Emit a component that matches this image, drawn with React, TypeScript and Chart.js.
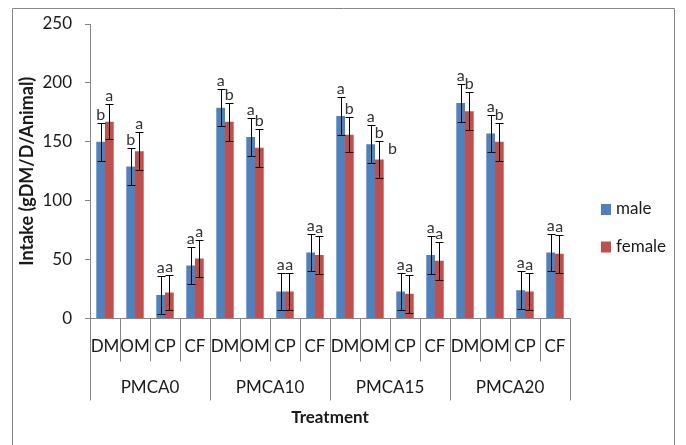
import React, { useEffect, useRef } from "react";
import { Chart, registerables } from "chart.js";

Chart.register(...registerables);

const groups = ["PMCA0", "PMCA10", "PMCA15", "PMCA20"];
const nutrients = ["DM", "OM", "CP", "CF"];
const categories = groups.flatMap((g) => nutrients.map((n) => `${g} ${n}`));

const maleValues = [150, 129, 20, 45, 179, 154, 23, 56, 172, 148, 23, 54, 183, 157, 24, 56];
const femaleValues = [167, 142, 22, 51, 167, 145, 23, 54, 156, 135, 21, 49, 176, 150, 23, 55];
const maleErrors = [16, 16, 16, 16, 16, 16, 16, 16, 16, 16, 16, 16, 16, 16, 16, 16];
const femaleErrors = [15, 16, 15, 16, 16, 16, 16, 16, 15, 16, 16, 16, 16, 16, 16, 16];
const maleLetters = ["b", "b", "a", "a", "a", "a", "a", "a", "a", "a", "a", "a", "a", "a", "a", "a"];
const femaleLetters = ["a", "a", "a", "a", "b", "b", "a", "a", "b", "b", "a", "a", "b", "b", "a", "a"];
// stray letter in the original figure: [category position, value, text]
const strayLetters: [number, number, string][] = [[9.58, 145, "b"]];

const yTicks = [0, 50, 100, 150, 200, 250];
const seriesNames = ["male", "female"];
const seriesColors = ["#4F81BD", "#C0504D"];

const FONT = "Lato, 'Noto Sans', sans-serif";
const GRAY = "#868686";
const TEXT = "#1a1a1a";

const decorPlugin = {
  id: "decor",
  afterDatasetsDraw(chart: any) {
    const ctx = chart.ctx;
    const x = chart.scales.x;
    const y = chart.scales.y;
    const area = chart.chartArea;
    ctx.save();
    // error bars
    const errs = [maleErrors, femaleErrors];
    const vals = [maleValues, femaleValues];
    const letters = [maleLetters, femaleLetters];
    ctx.strokeStyle = "#000";
    ctx.lineWidth = 1;
    for (let d = 0; d < 2; d++) {
      const meta = chart.getDatasetMeta(d);
      meta.data.forEach((el: any, i: number) => {
        const cx = Math.round(el.x) + 0.5;
        const top = Math.round(y.getPixelForValue(vals[d][i] + errs[d][i])) + 0.5;
        const bot = Math.round(y.getPixelForValue(vals[d][i] - errs[d][i])) + 0.5;
        ctx.beginPath();
        ctx.moveTo(cx, top);
        ctx.lineTo(cx, bot);
        ctx.moveTo(cx - 4, top);
        ctx.lineTo(cx + 4, top);
        ctx.moveTo(cx - 4, bot);
        ctx.lineTo(cx + 4, bot);
        ctx.stroke();
        ctx.fillStyle = "#333";
        ctx.font = `16px ${FONT}`;
        ctx.textAlign = "center";
        ctx.textBaseline = "alphabetic";
        ctx.fillText(letters[d][i], el.x, top - 4);
      });
    }
    strayLetters.forEach(([pos, v, t]) => {
      const px = x.getPixelForValue(0) + (x.getPixelForValue(1) - x.getPixelForValue(0)) * pos;
      ctx.fillText(t, px, y.getPixelForValue(v) + 6);
    });

    // category axis dividers and labels
    const left = area.left;
    const right = area.right;
    const cw = (right - left) / categories.length;
    const base = area.bottom;
    ctx.strokeStyle = GRAY;
    ctx.lineWidth = 1;
    for (let i = 0; i <= categories.length; i++) {
      const px = Math.round(left + i * cw) + 0.5;
      const len = i % nutrients.length === 0 ? 82 : 43;
      ctx.beginPath();
      ctx.moveTo(px, base);
      ctx.lineTo(px, base + len);
      ctx.stroke();
    }
    ctx.fillStyle = TEXT;
    ctx.font = `17px ${FONT}`;
    ctx.textAlign = "center";
    ctx.textBaseline = "middle";
    categories.forEach((c, i) => {
      ctx.fillText(nutrients[i % nutrients.length], left + (i + 0.5) * cw, base + 28);
    });
    groups.forEach((g, gi) => {
      ctx.fillText(g, left + (gi * nutrients.length + nutrients.length / 2) * cw, base + 69);
    });
    ctx.font = `bold 17px ${FONT}`;
    ctx.fillText("Treatment", (left + right) / 2, base + 99);

    // y title
    ctx.save();
    ctx.translate(27, (area.top + area.bottom) / 2);
    ctx.rotate(-Math.PI / 2);
    ctx.font = `bold 18px ${FONT}`;
    ctx.fillText("Intake (gDM/D/Animal)", 0, 0);
    ctx.restore();

    // legend
    ctx.font = `17px ${FONT}`;
    ctx.textAlign = "left";
    seriesNames.forEach((n, i) => {
      const cy = 209 + i * 37.5;
      ctx.fillStyle = seriesColors[i];
      ctx.fillRect(601, cy - 5, 10, 11);
      ctx.fillStyle = TEXT;
      ctx.fillText(n, 616, cy);
    });

    // outer border
    ctx.strokeStyle = GRAY;
    ctx.beginPath();
    ctx.rect(12.5, 8.5, 662, 450);
    ctx.stroke();
    ctx.restore();
  },
};

export default function App() {
  const ref = useRef<HTMLCanvasElement | null>(null);
  useEffect(() => {
    if (!ref.current) return;
    const chart = new Chart(ref.current, {
      type: "bar",
      data: {
        labels: categories,
        datasets: seriesNames.map((n, i) => ({
          label: n,
          data: i === 0 ? maleValues : femaleValues,
          backgroundColor: seriesColors[i],
          borderWidth: 0,
          categoryPercentage: 0.58,
          barPercentage: 1,
        })),
      },
      options: {
        animation: false,
        responsive: false,
        devicePixelRatio: 1,
        layout: { padding: { left: 0, right: 116, top: 24, bottom: 0 } },
        plugins: { legend: { display: false }, tooltip: { enabled: false } },
        scales: {
          x: {
            grid: { display: false },
            ticks: { display: false },
            border: { display: true, color: GRAY },
            afterFit: (s: any) => {
              s.height = 126.5;
            },
          },
          y: {
            min: 0,
            max: 250,
            afterBuildTicks: (s: any) => {
              s.ticks = yTicks.map((v) => ({ value: v }));
            },
            grid: { display: true, drawOnChartArea: false, drawTicks: true, tickLength: 5, color: GRAY },
            border: { display: true, color: GRAY },
            ticks: { padding: 13, color: TEXT, font: { family: FONT, size: 17 } },
            afterFit: (s: any) => {
              s.width = 90;
            },
          },
        },
      },
      plugins: [decorPlugin],
    });
    return () => chart.destroy();
  }, []);
  return (
    <div style={{ position: "fixed", left: 0, top: 0, width: 686, height: 445, background: "#fff" }}>
      <canvas ref={ref} width={686} height={445} style={{ width: 686, height: 445 }} />
    </div>
  );
}
